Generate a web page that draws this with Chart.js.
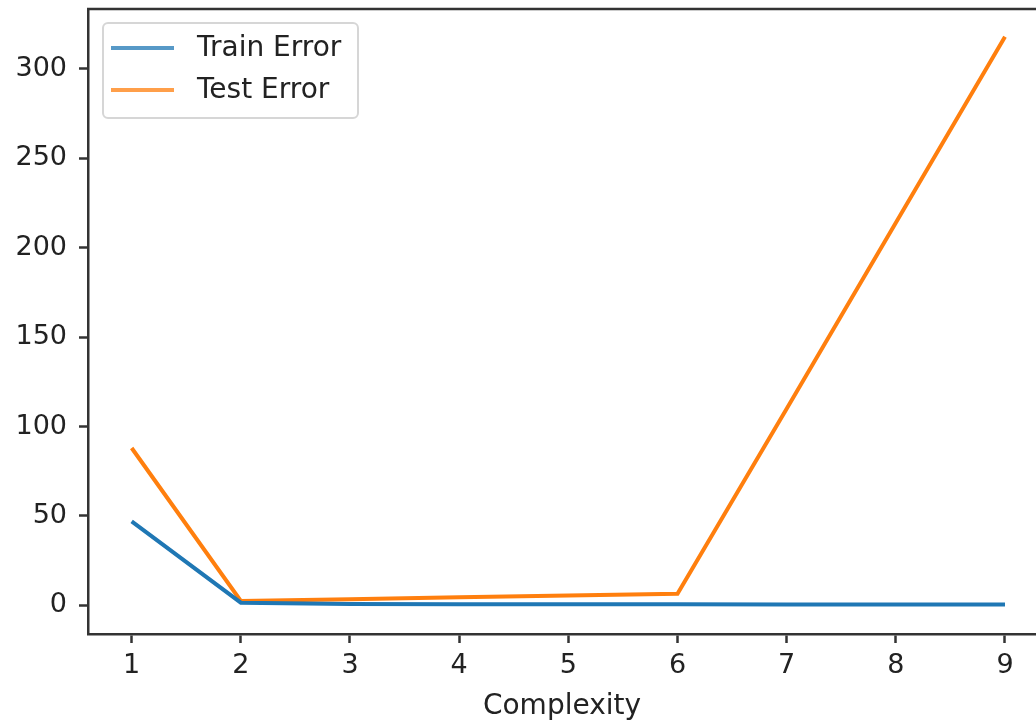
<!DOCTYPE html>
<html>
<head>
<meta charset="utf-8">
<script src="https://cdn.jsdelivr.net/npm/chart.js@4.4.1/dist/chart.umd.min.js"></script>
<style>
  html, body { margin: 0; padding: 0; background: #fff; overflow: hidden; }
  #wrap { width: 1036px; height: 724px; }
</style>
</head>
<body>
<div id="wrap"><canvas id="errChart" width="1036" height="724"></canvas></div>
<script>
// ---- DATA ----
const complexity = [1, 2, 3, 4, 5, 6, 7, 8, 9];
const trainError = [47, 1.5, 0.8, 0.7, 0.6, 0.6, 0.5, 0.5, 0.5];
const testError  = [88, 2.5, 3.5, 4.5, 5.5, 6.5, 110, 214, 318];
const seriesNames = ["Train Error", "Test Error"];
const xTicks = [1, 2, 3, 4, 5, 6, 7, 8, 9];
const yTicks = [0, 50, 100, 150, 200, 250, 300];
const xTitle = "Complexity";

const BLUE = "#1f77b4";
const ORANGE = "#ff7f0e";
const INK = "#222";
const FONT = "'DejaVu Sans', sans-serif";

const toPoints = ys => complexity.map((x, i) => ({ x: x, y: ys[i] }));

// ---- legend box + top spine (matplotlib look) ----
const frameAndLegend = {
  id: "frameAndLegend",
  afterDraw(chart) {
    const ctx = chart.ctx;
    const a = chart.chartArea;
    ctx.save();
    // top spine
    ctx.strokeStyle = "#333";
    ctx.lineWidth = 2.5;
    ctx.beginPath();
    ctx.moveTo(a.left - 1, a.top);
    ctx.lineTo(a.right, a.top);
    ctx.stroke();

    // legend frame
    const bx = 103, by = 23, bw = 255, bh = 95, r = 5;
    ctx.fillStyle = "rgba(255,255,255,0.8)";
    ctx.strokeStyle = "#d6d6d6";
    ctx.lineWidth = 2;
    ctx.beginPath();
    ctx.roundRect(bx, by, bw, bh, r);
    ctx.fill();
    ctx.stroke();

    const rows = [
      { label: chart.data.datasets[0].label, color: "rgba(31,119,180,0.75)", y: 48 },
      { label: chart.data.datasets[1].label, color: "rgba(255,127,14,0.75)", y: 90 }
    ];
    ctx.font = "28px " + FONT;
    ctx.textBaseline = "middle";
    ctx.textAlign = "left";
    rows.forEach(row => {
      ctx.strokeStyle = row.color;
      ctx.lineWidth = 4;
      ctx.beginPath();
      ctx.moveTo(111, row.y);
      ctx.lineTo(174, row.y);
      ctx.stroke();
      ctx.fillStyle = INK;
      ctx.fillText(row.label, 197, row.y + 1);
    });
    ctx.restore();
  }
};

new Chart(document.getElementById("errChart"), {
  type: "line",
  data: {
    datasets: [
      {
        label: seriesNames[0],
        data: toPoints(trainError),
        borderColor: BLUE,
        borderWidth: 4,
        pointRadius: 0,
        tension: 0
      },
      {
        label: seriesNames[1],
        data: toPoints(testError),
        borderColor: ORANGE,
        borderWidth: 4,
        pointRadius: 0,
        tension: 0
      }
    ]
  },
  options: {
    responsive: false,
    animation: false,
    layout: { padding: { top: 9, right: 0, left: 0, bottom: 0 } },
    plugins: {
      legend: { display: false },
      tooltip: { enabled: false }
    },
    scales: {
      x: {
        type: "linear",
        min: 0.6,
        max: 9.284,
        afterBuildTicks: axis => { axis.ticks = xTicks.map(v => ({ value: v })); },
        afterFit: axis => {
          axis.height = 90;
          axis.paddingLeft = 0;
          axis.paddingRight = 0;
        },
        grid: {
          drawOnChartArea: false,
          drawTicks: true,
          tickLength: 9,
          tickWidth: 2.5,
          tickColor: "#333"
        },
        border: { display: true, color: "#333", width: 2.5 },
        ticks: {
          padding: 7,
          color: INK,
          font: { family: FONT, size: 27 },
          maxRotation: 0,
          autoSkip: false
        },
        title: {
          display: true,
          text: xTitle,
          color: INK,
          font: { family: FONT, size: 28 },
          padding: { top: 0, bottom: 0 }
        }
      },
      y: {
        type: "linear",
        min: -16,
        max: 333.5,
        afterBuildTicks: axis => { axis.ticks = yTicks.map(v => ({ value: v })); },
        afterFit: axis => {
          axis.width = 88;
          axis.paddingTop = 0;
          axis.paddingBottom = 0;
        },
        grid: {
          drawOnChartArea: false,
          drawTicks: true,
          tickLength: 9,
          tickWidth: 2.5,
          tickColor: "#333"
        },
        border: { display: true, color: "#333", width: 2.5 },
        ticks: {
          padding: 12,
          color: INK,
          font: { family: FONT, size: 27 }
        }
      }
    }
  },
  plugins: [frameAndLegend]
});
</script>
</body>
</html>
